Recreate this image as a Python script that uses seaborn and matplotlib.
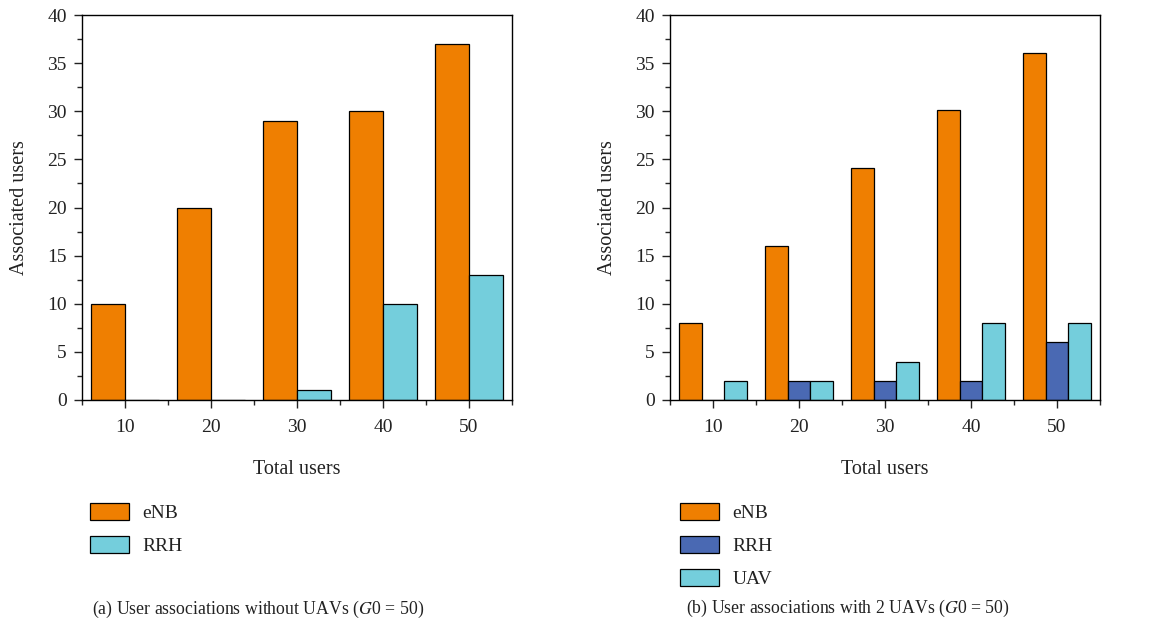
import numpy as np
import pandas as pd
import matplotlib
matplotlib.use("Agg")
import matplotlib.pyplot as plt
import seaborn as sns
from matplotlib.patches import Patch
from matplotlib.ticker import MultipleLocator, FixedLocator

total_users = ["10", "20", "30", "40", "50"]

a_enb = [10, 20, 29, 30, 37]
a_rrh = [0, 0, 1, 10, 13]

b_enb = [8.0, 16.0, 24.1, 30.1, 36.1]
b_rrh = [0, 2, 2, 2, 6]
b_uav = [2, 2, 4, 8, 8]

col_enb = "#EF7F01"
col_rrh = "#4A69B3"
col_uav = "#74CEDC"

sns.set_theme(style="white")
plt.rcParams["font.family"] = ["Liberation Serif", "DejaVu Serif"]
plt.rcParams["mathtext.fontset"] = "stix"

df_a = pd.DataFrame({
    "users": total_users * 2,
    "value": a_enb + a_rrh,
    "type": ["eNB"] * 5 + ["RRH"] * 5,
})
df_b = pd.DataFrame({
    "users": total_users * 3,
    "value": b_enb + b_rrh + b_uav,
    "type": ["eNB"] * 5 + ["RRH"] * 5 + ["UAV"] * 5,
})

W, H = 1161, 631
fig = plt.figure(figsize=(W / 100, H / 100), dpi=100)

def px_axes(x0, y0, x1, y1):
    return fig.add_axes([x0 / W, 1 - y1 / H, (x1 - x0) / W, (y1 - y0) / H])

ax1 = px_axes(82, 15, 512, 400)
ax2 = px_axes(670, 15, 1100, 400)

sns.barplot(data=df_a, x="users", y="value", hue="type", order=total_users,
            palette={"eNB": col_enb, "RRH": col_uav}, edgecolor="black",
            linewidth=0.9, ax=ax1, legend=False, saturation=1, errorbar=None)
sns.barplot(data=df_b, x="users", y="value", hue="type", order=total_users,
            palette={"eNB": col_enb, "RRH": col_rrh, "UAV": col_uav}, edgecolor="black",
            linewidth=0.9, ax=ax2, legend=False, saturation=1, errorbar=None)

for ax in (ax1, ax2):
    ax.set_xlim(-0.5, 4.5)
    ax.set_ylim(0, 40)
    ax.yaxis.set_major_locator(MultipleLocator(5))
    ax.yaxis.set_minor_locator(MultipleLocator(2.5))
    ax.xaxis.set_minor_locator(FixedLocator([-0.5, 0.5, 1.5, 2.5, 3.5, 4.5]))
    ax.tick_params(axis="both", which="major", direction="out", length=6, width=1,
                   labelsize=14, colors="#222222", bottom=True, left=True, top=False, right=False)
    ax.tick_params(axis="both", which="minor", direction="out", length=3.5, width=1,
                   bottom=True, left=True, top=False, right=False)
    ax.tick_params(axis="x", which="major", pad=8)
    ax.tick_params(axis="y", which="major", pad=5)
    for s in ax.spines.values():
        s.set_visible(True)
        s.set_color("black")
        s.set_linewidth(1.0)
    ax.set_xlabel("Total users", fontsize=14.5, labelpad=17, color="#222222")
    ax.set_ylabel("Associated users", fontsize=14.5, labelpad=13, color="#222222")
    ax.set_facecolor("white")

leg_a = [Patch(facecolor=col_enb, edgecolor="black", linewidth=0.9, label="eNB"),
         Patch(facecolor=col_uav, edgecolor="black", linewidth=0.9, label="RRH")]
leg_b = [Patch(facecolor=col_enb, edgecolor="black", linewidth=0.9, label="eNB"),
         Patch(facecolor=col_rrh, edgecolor="black", linewidth=0.9, label="RRH"),
         Patch(facecolor=col_uav, edgecolor="black", linewidth=0.9, label="UAV")]

legkw = dict(frameon=False, fontsize=14, handlelength=2.0, handleheight=0.95,
             labelspacing=0.72, handletextpad=0.7, borderpad=0, borderaxespad=0,
             loc="upper left")
fig.legend(handles=leg_a, bbox_to_anchor=(90 / W, 1 - 503 / H), labelcolor="#222222", **legkw)
fig.legend(handles=leg_b, bbox_to_anchor=(680 / W, 1 - 503 / H), labelcolor="#222222", **legkw)

fig.text(92 / W, 1 - 614 / H, "(a) User associations without UAVs ($G$0 = 50)",
         fontsize=12.8, ha="left", va="baseline", color="#222222")
fig.text(686 / W, 1 - 613 / H, "(b) User associations with 2 UAVs ($G$0 = 50)",
         fontsize=12.8, ha="left", va="baseline", color="#222222")

fig.savefig("out.png", dpi=100, facecolor="white")
